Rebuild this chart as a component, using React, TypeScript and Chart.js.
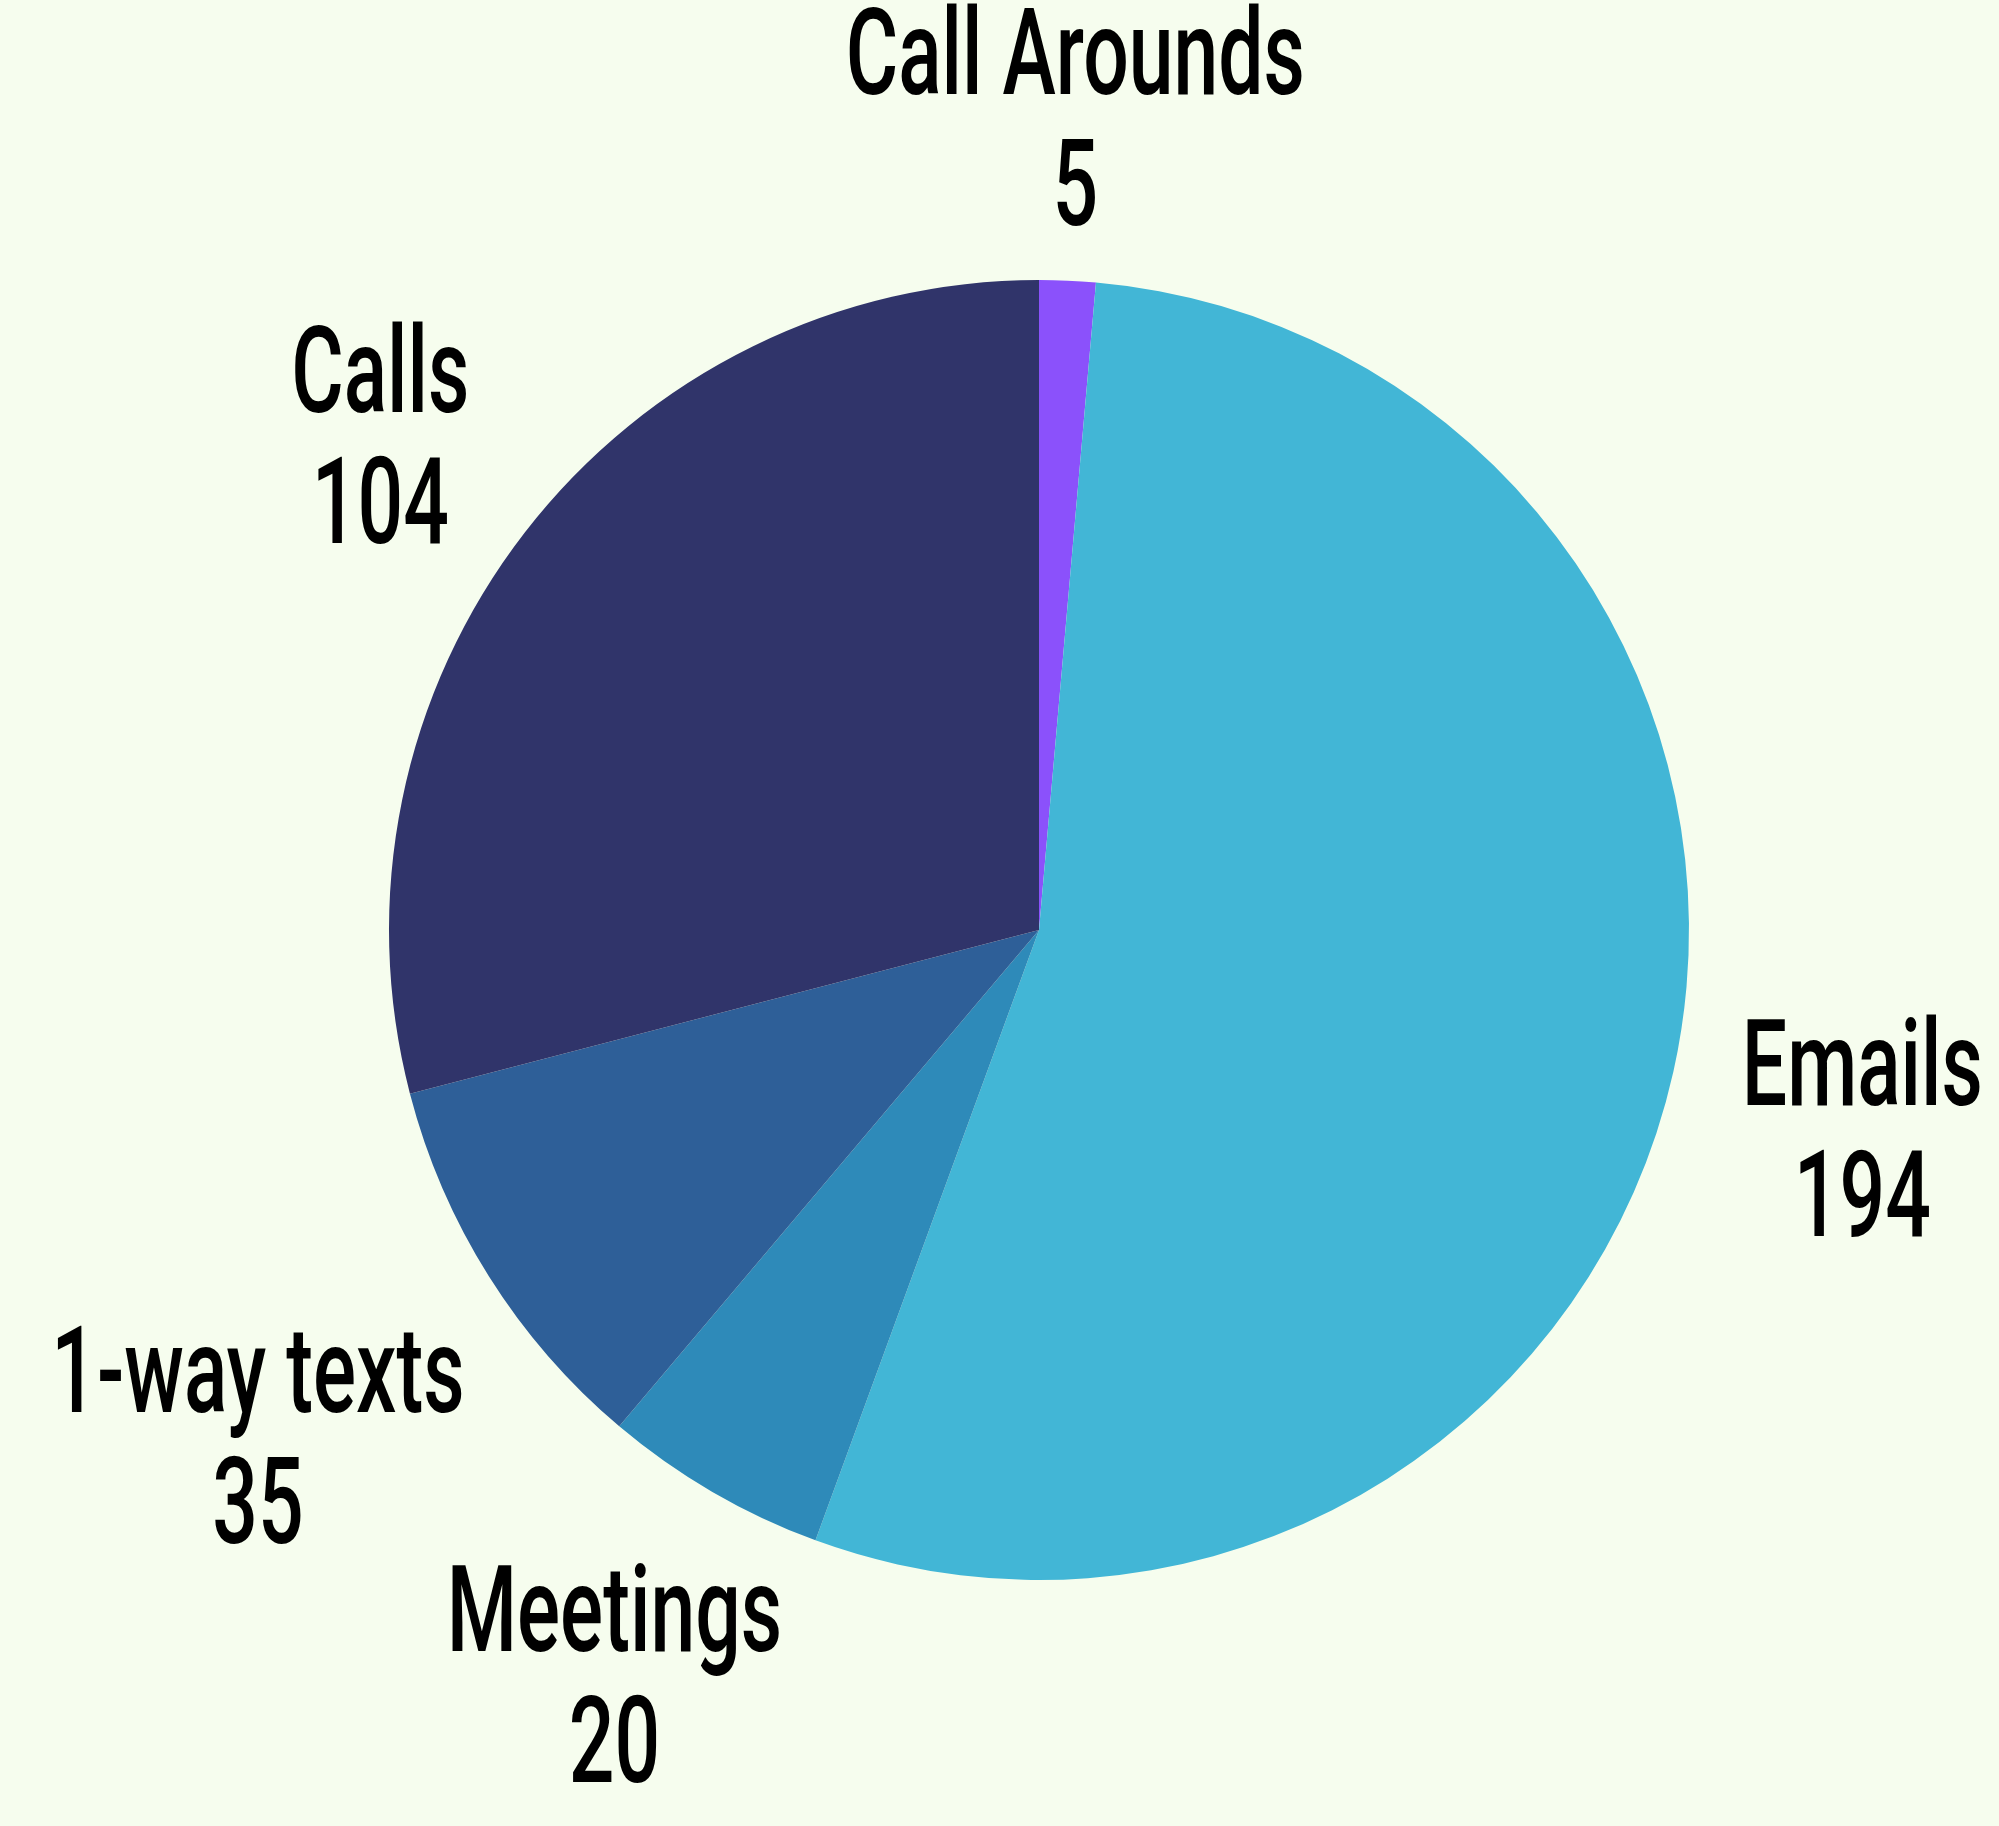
import React, { useEffect, useRef } from "react";
import { Chart, registerables } from "chart.js";

Chart.register(...registerables);

// ---- data ----
const categories = ["Call Arounds", "Emails", "Meetings", "1-way texts", "Calls"];
const values = [5, 194, 20, 35, 104];
const sliceColors = ["#8b51fb", "#42b6d6", "#2e8ab9", "#2e5f98", "#30346a"];

// ---- style ----
const BG = "#f6fdee";
const FONT_FAMILY = "Roboto";
const FONT_WEIGHT = 500;
const FONT_SIZE = 120;
const X_SCALE = 0.67; // condensed look
const LINE_GAP = 131; // baseline to baseline
const CAP = 85; // cap height of the font
const GAP = 70; // space between pie edge and label box
const SHIFT = 14; // visual downward shift of the label block

const outsideLabels = {
  id: "outsideLabels",
  afterDatasetsDraw(chart: any) {
    const ctx: CanvasRenderingContext2D = chart.ctx;
    const meta = chart.getDatasetMeta(0);
    const ds = chart.data.datasets[0];
    ctx.save();
    ctx.font = `${FONT_WEIGHT} ${FONT_SIZE}px ${FONT_FAMILY}`;
    ctx.fillStyle = "#000000";
    ctx.textAlign = "center";
    ctx.textBaseline = "alphabetic";
    meta.data.forEach((arc: any, i: number) => {
      const { x, y, startAngle, endAngle, outerRadius } = arc.getProps(
        ["x", "y", "startAngle", "endAngle", "outerRadius"],
        true
      );
      const mid = (startAngle + endAngle) / 2;
      const vx = Math.cos(mid);
      const vy = Math.sin(mid);
      const lines = [String(chart.data.labels[i]), String(ds.data[i])];
      const w = Math.max(...lines.map((l) => ctx.measureText(l).width)) * X_SCALE;
      const hw = w / 2;
      const hh = (LINE_GAP + CAP) / 2;
      const ex = Math.abs(vx) > 1e-6 ? hw / Math.abs(vx) : Infinity;
      const ey = Math.abs(vy) > 1e-6 ? hh / Math.abs(vy) : Infinity;
      const d = outerRadius + GAP + Math.min(ex, ey);
      const cx = x + vx * d;
      const cy = y + vy * d + SHIFT;
      const top = cy - (LINE_GAP + CAP) / 2;
      lines.forEach((t, k) => {
        ctx.save();
        ctx.translate(cx, top + CAP + k * LINE_GAP);
        ctx.scale(X_SCALE, 1);
        ctx.fillText(t, 0, 0);
        ctx.restore();
      });
    });
    ctx.restore();
  },
};

export default function App() {
  const ref = useRef<HTMLCanvasElement | null>(null);
  useEffect(() => {
    document.body.style.margin = "0";
    document.body.style.background = BG;
    if (!ref.current) return;
    const chart = new Chart(ref.current, {
      type: "pie",
      data: {
        labels: categories,
        datasets: [
          {
            data: values,
            backgroundColor: sliceColors,
            borderWidth: 0,
          },
        ],
      },
      options: {
        animation: false,
        responsive: false,
        devicePixelRatio: 1,
        layout: { padding: { top: 279, bottom: 245, left: 389, right: 310 } },
        plugins: {
          legend: { display: false },
          tooltip: { enabled: false },
        },
      },
      plugins: [outsideLabels],
    });
    return () => chart.destroy();
  }, []);
  return (
    <div style={{ width: 1999, height: 1826, background: BG }}>
      <canvas ref={ref} width={1999} height={1826} style={{ display: "block" }} />
    </div>
  );
}
